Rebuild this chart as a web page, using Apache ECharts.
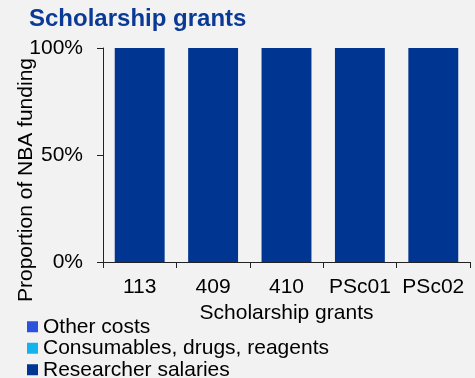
<!DOCTYPE html>
<html>
<head>
<meta charset="utf-8">
<script src="https://cdn.jsdelivr.net/npm/echarts@6/dist/echarts.min.js"></script>
<style>
  html, body { margin: 0; padding: 0; background: #f2f2f2; }
  #chart { width: 475px; height: 378px; }
</style>
</head>
<body>
<div id="chart"></div>
<script>
// Grant categories along the x axis
const categories = ['113', '409', '410', 'PSc01', 'PSc02'];

// Share of funding per cost type (fraction of total)
const otherCosts = [0, 0, 0, 0, 0];
const consumables = [0, 0, 0, 0, 0];
const researcherSalaries = [1, 1, 1, 1, 1];

// Y-axis ticks
const yTicks = [0, 0.5, 1];

const font = 'Arial, "Liberation Sans", sans-serif';
const chart = echarts.init(document.getElementById('chart'));

chart.setOption({
  backgroundColor: '#f2f2f2',
  animation: false,
  title: {
    text: 'Scholarship grants',
    left: 24,
    top: 2,
    textStyle: { fontFamily: font, fontSize: 24, fontWeight: 'bold', color: '#0b3a96' }
  },
  grid: { left: 103, right: 5, top: 48, bottom: 116 },
  legend: {
    orient: 'vertical',
    left: 27,
    top: 316,
    height: 120,
    itemWidth: 11,
    itemHeight: 11,
    itemGap: 0,
    icon: 'rect',
    padding: 0,
    data: ['Other costs', 'Consumables, drugs, reagents', 'Researcher salaries'],
    textStyle: { fontFamily: font, fontSize: 21, color: '#000', lineHeight: 21.5, padding: [0, 0, 0, 0] }
  },
  graphic: [{
    type: 'text',
    x: 26,
    y: 180,
    rotation: Math.PI / 2,
    style: {
      text: 'Proportion of NBA funding',
      fontFamily: font,
      fontSize: 21,
      fill: '#000',
      textAlign: 'center',
      textVerticalAlign: 'middle'
    }
  }],
  xAxis: {
    type: 'category',
    data: categories,
    name: 'Scholarship grants',
    nameLocation: 'middle',
    nameGap: 40,
    nameTextStyle: { fontFamily: font, fontSize: 21, color: '#000' },
    axisLine: { lineStyle: { color: '#222', width: 1 } },
    axisTick: { show: true, length: 6, lineStyle: { color: '#222' } },
    axisLabel: { fontFamily: font, fontSize: 21, color: '#000', margin: 15, interval: 0 }
  },
  yAxis: {
    type: 'value',
    min: yTicks[0],
    max: yTicks[yTicks.length - 1],
    interval: 0.5,
    axisLine: { show: true, lineStyle: { color: '#222', width: 1 } },
    axisTick: { show: true, length: 6, lineStyle: { color: '#222' } },
    splitLine: { show: false },
    axisLabel: {
      fontFamily: font, fontSize: 21, color: '#000', margin: 20,
      formatter: v => Math.round(v * 100) + '%'
    }
  },
  series: [
    {
      name: 'Researcher salaries',
      type: 'bar',
      stack: 'total',
      data: researcherSalaries,
      barCategoryGap: '32%',
      itemStyle: { color: '#003591' }
    },
    {
      name: 'Consumables, drugs, reagents',
      type: 'bar',
      stack: 'total',
      data: consumables,
      itemStyle: { color: '#12b4ee' }
    },
    {
      name: 'Other costs',
      type: 'bar',
      stack: 'total',
      data: otherCosts,
      itemStyle: { color: '#2a52de' }
    }
  ]
});
</script>
</body>
</html>
